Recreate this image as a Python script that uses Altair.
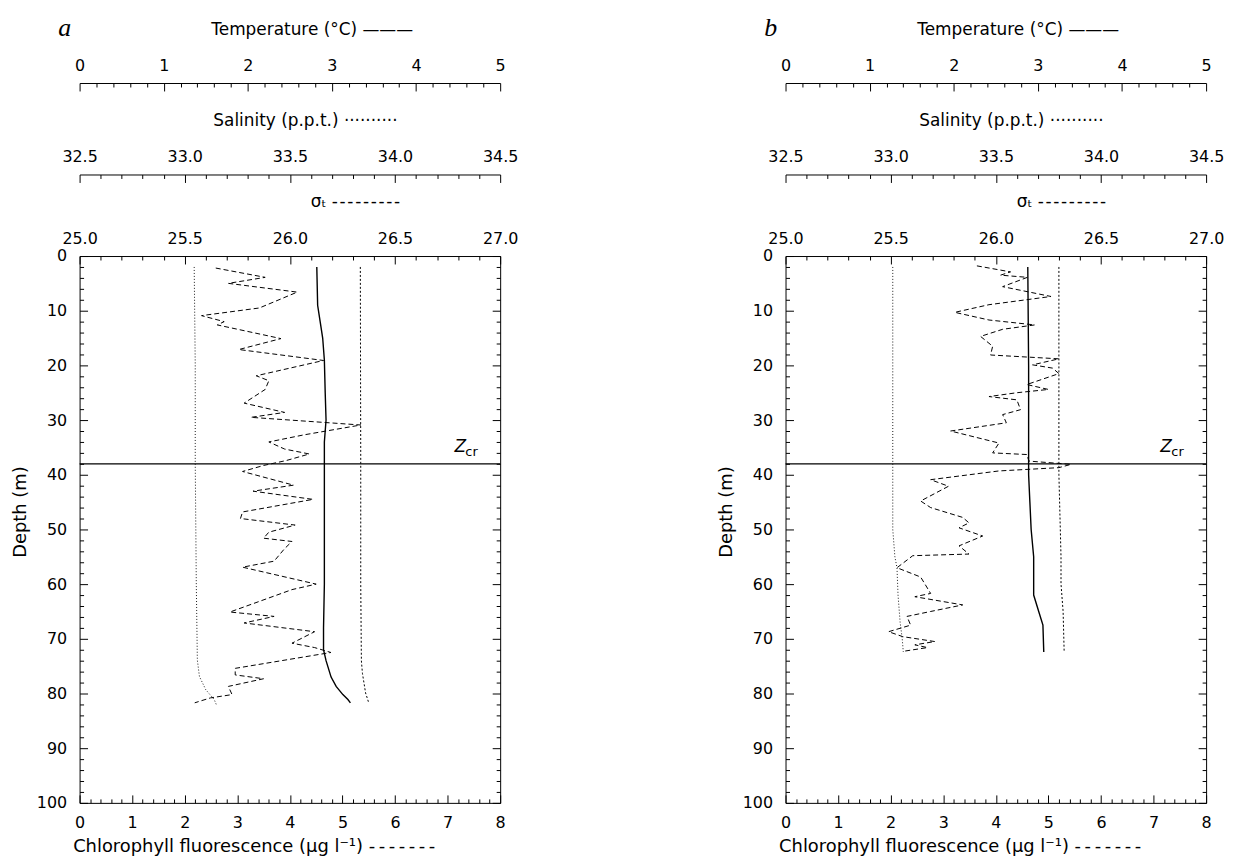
import altair as alt
import pandas as pd

W, H = 423, 550
FONT = "DejaVu Sans"
TICKC = "black"

# ---------------- data ----------------
panel_labels = ["a", "b"]
zcr_depth = [38.0, 38.0]

# panel a
a_chl_depth = [2.2, 3.9, 5.0, 6.6, 9.5, 10.9, 12.0, 12.6, 15.1, 17.1, 19.1, 21.9, 22.8, 24.4, 26.9,
               28.6, 29.5, 30.9, 32.7, 34.0, 35.3, 36.2, 37.4, 38.3, 39.4, 41.9, 43.0, 44.5, 46.8,
               48.0, 49.2, 50.5, 51.6, 52.2, 53.5, 55.8, 56.9, 60.0, 61.0, 65.1, 65.9, 67.1, 68.7,
               70.8, 71.6, 72.5, 75.4, 76.6, 77.3, 78.7, 80.2, 80.8, 81.7]
a_chl = [2.59, 3.53, 2.83, 4.14, 3.42, 2.32, 2.75, 2.62, 3.83, 3.03, 4.64, 3.36, 3.60, 3.53, 3.13,
         3.90, 3.26, 5.35, 4.27, 3.60, 3.90, 4.37, 3.93, 3.50, 3.10, 4.07, 3.30, 4.44, 3.10,
         3.06, 4.10, 3.60, 3.50, 4.04, 3.90, 3.70, 3.10, 4.50, 4.04, 2.86, 3.70, 3.13, 4.47,
         4.04, 4.47, 4.78, 2.96, 2.96, 3.50, 2.83, 2.90, 2.49, 2.19]
a_temp_depth = [2, 9, 12, 15, 19, 25, 30, 34, 38, 50, 60, 68, 72, 74, 77, 78.7, 80.2, 81.1, 81.7]
a_temp = [2.82, 2.83, 2.86, 2.89, 2.91, 2.92, 2.93, 2.91, 2.91, 2.91, 2.91, 2.90, 2.90, 2.93,
          2.99, 3.05, 3.13, 3.19, 3.22]
a_sal_depth = [2, 20, 38, 60, 73.9, 76.9, 79.3, 81.1, 82]
a_sal = [33.045, 33.05, 33.05, 33.055, 33.06, 33.07, 33.10, 33.14, 33.15]
a_sig_depth = [2, 38, 60, 74, 76.3, 79.9, 81.7]
a_sig = [26.335, 26.337, 26.337, 26.34, 26.345, 26.36, 26.375]

# panel b
b_chl_depth = [1.8, 2.9, 3.5, 3.9, 5.6, 7.4, 8.9, 10.3, 11.7, 12.6, 13.4, 14.7, 16.5, 18.1, 18.8,
               19.9, 20.5, 21.5, 23.5, 24.4, 25.0, 25.7, 26.3, 28.1, 29.0, 30.5, 32.0, 34.2, 36.0,
               36.3, 37.5, 38.1, 38.7, 39.3, 40.9, 42.1, 44.8, 46.0, 47.8, 48.8, 49.7, 51.2, 53.0,
               54.5, 54.8, 57.0, 58.7, 61.7, 62.3, 63.8, 65.0, 65.9, 67.5, 68.7, 69.6, 70.5, 71.1,
               71.6, 72.3]
b_chl = [3.64, 4.28, 4.09, 4.60, 4.13, 5.05, 3.87, 3.22, 3.87, 4.74, 4.13, 3.71, 3.94, 3.90, 5.20,
         4.70, 5.08, 5.20, 4.59, 5.00, 4.40, 3.87, 4.40, 4.47, 4.13, 4.20, 3.14, 4.06, 3.94,
         4.59, 4.63, 5.43, 5.20, 4.06, 2.76, 3.10, 2.57, 2.76, 3.37, 3.49, 3.30, 3.75, 3.30,
         3.49, 2.42, 2.12, 2.57, 2.76, 2.46, 3.37, 2.76, 2.31, 2.38, 1.96, 2.23, 2.84, 2.46,
         2.70, 2.23]
b_temp_depth = [2, 20, 40, 45, 50, 55, 62, 65, 67.5, 72.4]
b_temp = [2.88, 2.89, 2.89, 2.905, 2.92, 2.95, 2.95, 3.01, 3.06, 3.07]
b_sal_depth = [2, 50, 55, 57, 62, 67, 70, 72.4]
b_sal = [33.01, 33.01, 33.02, 33.03, 33.035, 33.045, 33.055, 33.06]
b_sig_depth = [2, 40, 55, 60, 65, 72.4]
b_sig = [26.30, 26.30, 26.31, 26.31, 26.32, 26.325]

# axis tick labels
chl_ticks = [0, 1, 2, 3, 4, 5, 6, 7, 8]
depth_ticks = [0, 10, 20, 30, 40, 50, 60, 70, 80, 90, 100]
temp_ticks = [0, 1, 2, 3, 4, 5]
sal_ticks = [32.5, 33.0, 33.5, 34.0, 34.5]
sig_ticks = [25.0, 25.5, 26.0, 26.5, 27.0]

TEMP_TITLE = "Temperature (°C) ———"
SAL_TITLE = "Salinity (p.p.t.) ··········"
SIG_TITLE = "σₜ " + "-\u200a" * 9
CHL_TITLE = "Chlorophyll fluorescence (µg l⁻¹) " + "-\u2009" * 7
DEPTH_TITLE = "Depth (m)"


def minor(lo, hi, step, majors):
    n = int(round((hi - lo) / step))
    vals = [round(lo + i * step, 3) for i in range(n + 1)]
    return [v for v in vals if all(abs(v - m) > 1e-6 for m in majors)]


def label_axis(orient, values, offset, fmt, pad, title=None, **tkw):
    kw = dict(orient=orient, values=values, offset=offset, format=fmt,
              ticks=False, tickSize=0, domain=False, grid=False,
              labelFont=FONT, labelFontSize=16, labelColor="black",
              labelPadding=pad, labelFlush=False, labelOverlap=False)
    if title is None:
        kw["title"] = None
    else:
        kw.update(title=title, titleFont=FONT, titleFontWeight="normal",
                  titleColor="black", **tkw)
    return alt.Axis(**kw)


def tick_axis(orient, values, offset, size, domain=False):
    return alt.Axis(orient=orient, values=values, offset=offset, tickSize=size,
                    ticks=True, labels=False, domain=domain, grid=False, title=None,
                    tickColor=TICKC, tickWidth=1, domainColor="black", domainWidth=1)


def panel(label, chl_d, chl_v, t_d, t_v, s_d, s_v, g_d, g_v, zcr):
    yscale = alt.Scale(domain=[0, 100], reverse=True, nice=False, zero=False)

    def df(d, v):
        return pd.DataFrame({"depth": d, "v": v})

    def L(data, dom, xaxis, yaxis, **mk):
        return alt.Chart(data).mark_line(**mk).encode(
            x=alt.X("v:Q", scale=alt.Scale(domain=dom, nice=False, zero=False), axis=xaxis),
            y=alt.Y("depth:Q", scale=yscale, axis=yaxis),
            order=alt.Order("depth:Q"),
        )

    ghost = dict(strokeOpacity=0)
    chl = df(chl_d, chl_v)
    tmp = df(t_d, t_v)
    sal = df(s_d, s_v)
    sig = df(g_d, g_v)

    top_t = dict(titleFontSize=17, titleAlign="left", titleBaseline="alphabetic", titleAngle=0)

    layers = [
        # chlorophyll
        L(chl, [0, 8],
          label_axis("bottom", chl_ticks, 0, "d", 12, CHL_TITLE, titleFontSize=18,
                     titleAlign="left", titleBaseline="alphabetic", titleAngle=0,
                     titleX=-7, titleY=49),
          label_axis("left", depth_ticks, 0, "d", 13, DEPTH_TITLE, titleFontSize=18,
                     titleAlign="center", titleBaseline="middle", titleAngle=270,
                     titleX=-59, titleY=257),
          color="black", strokeWidth=1, strokeDash=[5, 3]),
        L(chl, [0, 8], tick_axis("top", chl_ticks, -H, 8),
          tick_axis("right", depth_ticks, -W, 8), **ghost),
        L(chl, [0, 8], tick_axis("top", minor(0, 8, 0.2, chl_ticks), -H, 4),
          tick_axis("right", minor(0, 100, 2, depth_ticks), -W, 4), **ghost),
        # temperature
        L(tmp, [0, 5], label_axis("top", temp_ticks, 174, "d", 10, TEMP_TITLE,
                                  titleX=132, titleY=-49, **top_t),
          None, color="black", strokeWidth=1.4),
        L(tmp, [0, 5], tick_axis("bottom", temp_ticks, -(H + 174), 8, domain=True),
          tick_axis("left", depth_ticks, -W, 8), **ghost),
        L(tmp, [0, 5], tick_axis("bottom", minor(0, 5, 0.2, temp_ticks), -(H + 174), 4),
          tick_axis("left", minor(0, 100, 2, depth_ticks), -W, 4), **ghost),
        # salinity
        L(sal, [32.5, 34.5], label_axis("top", sal_ticks, 82, ".1f", 10, SAL_TITLE,
                                        titleX=134, titleY=-49, **top_t),
          None, color="black", strokeWidth=0.9, strokeDash=[1, 2]),
        L(sal, [32.5, 34.5], tick_axis("bottom", sal_ticks, -(H + 82), 8, domain=True),
          None, **ghost),
        L(sal, [32.5, 34.5], tick_axis("bottom", minor(32.5, 34.5, 0.1, sal_ticks), -(H + 82), 4),
          None, **ghost),
        # sigma-t
        L(sig, [25, 27], label_axis("top", sig_ticks, 0, ".1f", 10, SIG_TITLE,
                                    titleX=232, titleY=-50, **top_t),
          None, color="black", strokeWidth=1, strokeDash=[2, 2]),
        L(sig, [25, 27], tick_axis("bottom", sig_ticks, -H, 8), None, **ghost),
        L(sig, [25, 27], tick_axis("bottom", minor(25, 27, 0.1, sig_ticks), -H, 4), None, **ghost),
    ]

    zdf = pd.DataFrame({"depth": [zcr], "z": ["Z"], "cr": ["cr"]})
    layers.append(
        alt.Chart(zdf).mark_rule(color="black", strokeWidth=1.3).encode(
            y=alt.Y("depth:Q", scale=yscale, axis=None),
            x=alt.value(0), x2=alt.value(W)))
    layers.append(
        alt.Chart(zdf).mark_text(font=FONT, fontStyle="italic", fontSize=17, align="left",
                                 baseline="alphabetic", dy=-12, color="black").encode(
            y=alt.Y("depth:Q", scale=yscale, axis=None), x=alt.value(377), text="z:N"))
    layers.append(
        alt.Chart(zdf).mark_text(font=FONT, fontSize=13, align="left",
                                 baseline="alphabetic", dy=-8, color="black").encode(
            y=alt.Y("depth:Q", scale=yscale, axis=None), x=alt.value(388), text="cr:N"))
    ldf = pd.DataFrame({"lab": [label]})
    layers.append(
        alt.Chart(ldf).mark_text(font="Liberation Serif", fontStyle="italic", fontSize=26,
                                 align="center", baseline="middle", color="black").encode(
            x=alt.value(-15), y=alt.value(-229), text="lab:N"))

    return (alt.layer(*layers)
            .resolve_scale(x="independent")
            .resolve_axis(x="independent", y="independent")
            .properties(width=W, height=H))


pa = panel(panel_labels[0], a_chl_depth, a_chl, a_temp_depth, a_temp, a_sal_depth, a_sal,
           a_sig_depth, a_sig, zcr_depth[0])
pb = panel(panel_labels[1], b_chl_depth, b_chl, b_temp_depth, b_temp, b_sal_depth, b_sal,
           b_sig_depth, b_sig, zcr_depth[1])

chart = (alt.hconcat(pa, pb, spacing=287, bounds="flush")
         .properties(padding={"left": 3, "top": 4, "right": 0, "bottom": 0})
         .configure_view(stroke="black", strokeWidth=1))

chart.save("out.html", embed_options={"renderer": "svg", "actions": False})
